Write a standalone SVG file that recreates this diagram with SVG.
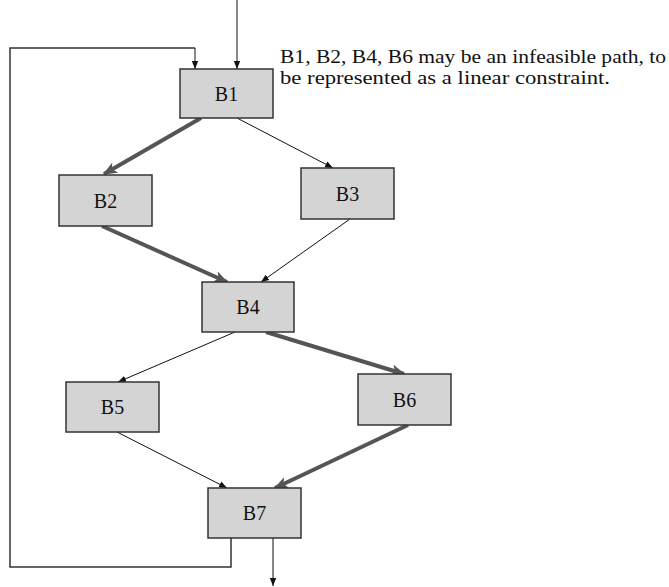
<svg xmlns="http://www.w3.org/2000/svg" width="669" height="587" viewBox="0 0 669 587">
  <style>
    .box { fill: #d4d4d4; stroke: #333333; stroke-width: 1.5; }
    .lbl { font-family: "Liberation Serif", "DejaVu Serif", serif; font-size: 20px; fill: #111111; text-anchor: middle; dominant-baseline: central; }
    .note { font-family: "Liberation Serif", "DejaVu Serif", serif; font-size: 19.5px; fill: #111111; }
    .thin { stroke: #111111; stroke-width: 1; fill: none; marker-end: url(#headThin); }
    .thick { stroke: #555555; stroke-width: 4; fill: none; marker-end: url(#headThick); }
    .plain { stroke: #333333; stroke-width: 1.5; fill: none; }
  </style>
  <defs>
    <marker id="headThin" viewBox="0 0 10 10" refX="10" refY="5" markerWidth="8" markerHeight="8" markerUnits="userSpaceOnUse" orient="auto">
      <path d="M0,1 L10,5 L0,9 z" fill="#111111"/>
    </marker>
    <marker id="headThick" viewBox="0 0 12 10" refX="11" refY="5" markerWidth="14" markerHeight="12" markerUnits="userSpaceOnUse" orient="auto">
      <path d="M0,0 L12,5 L0,10 L3,5 z" fill="#555555"/>
    </marker>
  </defs>

  <g id="connectors">
    <!-- entry -->
    <line class="thin" x1="237" y1="0" x2="237" y2="69"/>
    <!-- loop back edge B7 -> B1 -->
    <path class="plain" d="M231,538 V567 H10 V48 H195"/>
    <line class="thin" x1="195" y1="48" x2="195" y2="69"/>
    <!-- exit -->
    <line class="thin" x1="273" y1="538" x2="273" y2="586"/>
    <!-- branches -->
    <line class="thick" x1="201" y1="118" x2="104" y2="174"/>
    <line class="thin" x1="237" y1="118" x2="333" y2="168"/>
    <line class="thick" x1="102" y1="226" x2="227" y2="282"/>
    <line class="thin" x1="350" y1="219" x2="261" y2="282"/>
    <line class="thin" x1="235" y1="332" x2="118" y2="382"/>
    <line class="thick" x1="266" y1="332" x2="404" y2="374"/>
    <line class="thin" x1="117" y1="432" x2="227" y2="488"/>
    <line class="thick" x1="408" y1="425" x2="275" y2="488"/>
  </g>

  <g id="B1"><rect class="box" x="180" y="69" width="93" height="49"/><text class="lbl" x="226.5" y="93.5">B1</text></g>
  <g id="B2"><rect class="box" x="59" y="175" width="93" height="51"/><text class="lbl" x="105.5" y="200.5">B2</text></g>
  <g id="B3"><rect class="box" x="301" y="168" width="93" height="51"/><text class="lbl" x="347.5" y="193.5">B3</text></g>
  <g id="B4"><rect class="box" x="202" y="282" width="92" height="50"/><text class="lbl" x="248" y="307">B4</text></g>
  <g id="B5"><rect class="box" x="66" y="382" width="93" height="50"/><text class="lbl" x="112.5" y="407">B5</text></g>
  <g id="B6"><rect class="box" x="358" y="374" width="93" height="51"/><text class="lbl" x="404.5" y="399.5">B6</text></g>
  <g id="B7"><rect class="box" x="208" y="488" width="93" height="50"/><text class="lbl" x="254.5" y="513">B7</text></g>

  <g id="note">
    <text class="note" x="280" y="63" textLength="386" lengthAdjust="spacingAndGlyphs">B1, B2, B4, B6 may be an infeasible path, to</text>
    <text class="note" x="280" y="84" textLength="330" lengthAdjust="spacingAndGlyphs">be represented as a linear constraint.</text>
  </g>
</svg>
